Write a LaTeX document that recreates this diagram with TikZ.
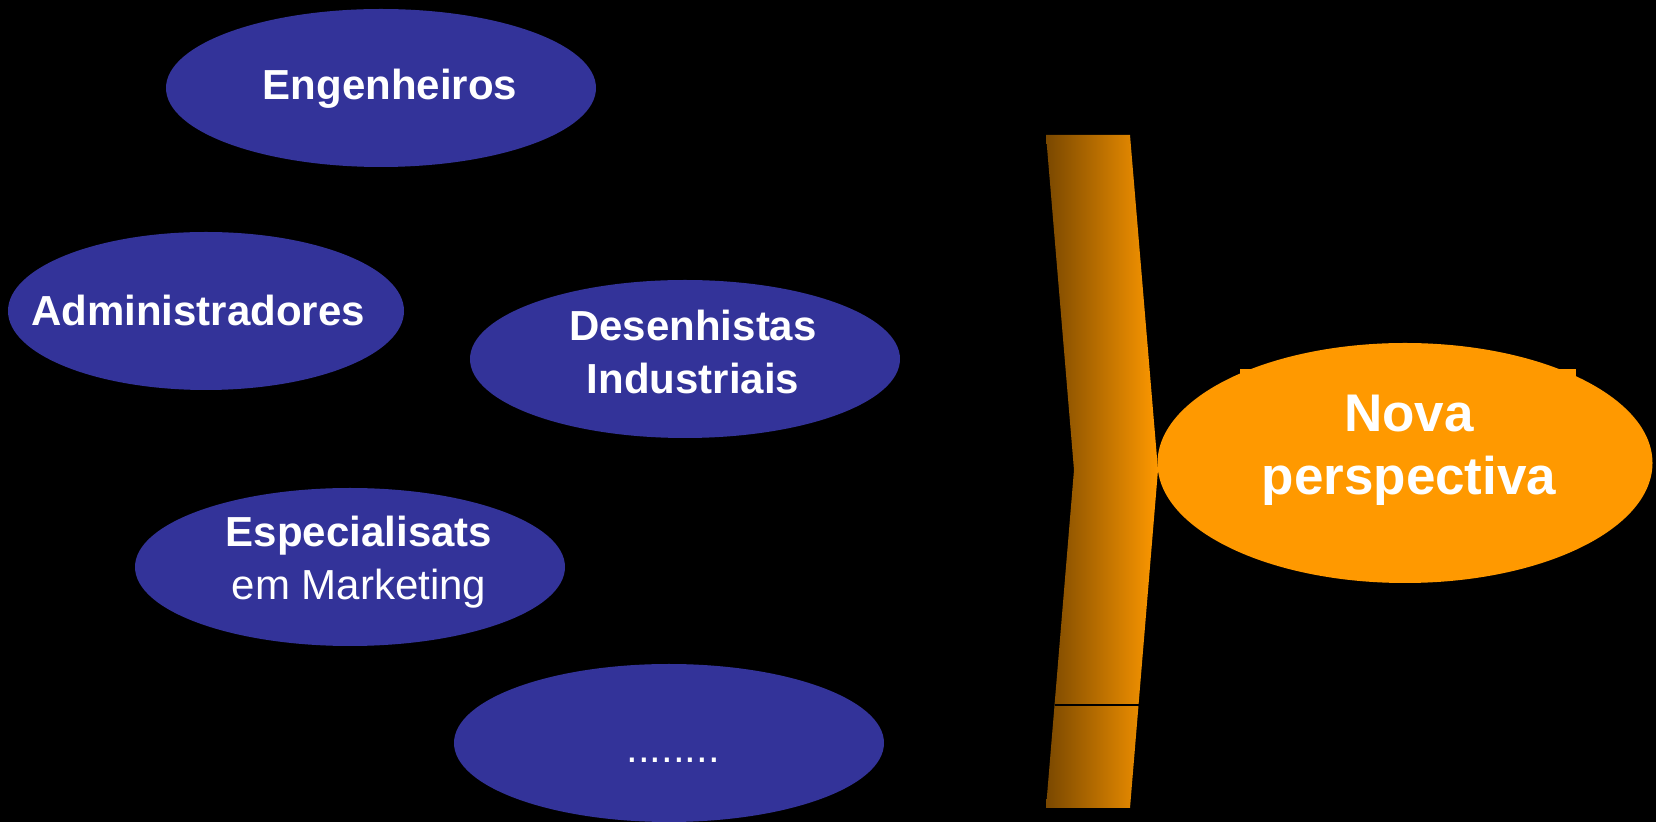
\documentclass[tikz,border=0pt]{standalone}
\usepackage{fontspec}
\setmainfont{Liberation Sans}
\usetikzlibrary{shapes.geometric}

\definecolor{azul}{RGB}{51,51,153}
\definecolor{laranja}{RGB}{255,153,0}
\definecolor{marrom}{RGB}{122,72,0}

\begin{document}
\begin{tikzpicture}[x=0.5pt,y=-0.5pt,
    grupo/.style={ellipse,fill=azul,inner sep=0pt,outer sep=0pt,minimum width=215pt,minimum height=79pt},
    visao/.style={ellipse,fill=laranja,inner sep=0pt,outer sep=0pt,minimum width=247.5pt,minimum height=120pt},
    rotulo/.style={text=white,align=center,font=\fontsize{21}{26.5}\selectfont\bfseries},
    grande/.style={text=white,align=center,font=\fontsize{26.5}{31.5}\selectfont\bfseries}]

    \useasboundingbox (0,0) rectangle (1656,822);
    \fill[black] (0,0) rectangle (1656,822);

    \node[grupo]         (eng) at (381, 88)           {};
    \node[grupo,minimum width=198pt] (adm) at (206, 311) {};
    \node[grupo]         (des) at (685, 359)          {};
    \node[grupo]         (esp) at (350, 567)          {};
    \node[grupo]         (out) at (669, 743)          {};
    \node[visao]         (nova) at (1405, 463)        {};

    \fill[laranja] (1240,369) rectangle (1252,376);
    \fill[laranja] (1559,369) rectangle (1576,376);

    \node[rotulo]        (teng) at (390, 89)          {Engenheiros};
    \node[rotulo]        (tadm) at (198, 310)         {Administradores};
    \node[rotulo]        (tdes) at (693, 352)         {Desenhistas\\Industriais};
    \node[rotulo]        (tesp) at (359, 562)         {Especialisats\\{\mdseries em Marketing}};
    \node[rotulo,anchor=base] (tout) at (673, 763)    {\mdseries ........};
    \node[grande]        (tnova) at (1409, 450)       {Nova\\perspectiva};

    % chave laranja
    \coordinate (c1) at (1046, 135);
    \coordinate (c2) at (1130, 135);
    \coordinate (c3) at (1158, 470);
    \coordinate (c4) at (1130, 808);
    \coordinate (c5) at (1046, 808);
    \coordinate (c6) at (1074, 470);
    \shade[left color=marrom,right color=laranja] (c1) -- (c2) -- (c3) -- (c4) -- (c5) -- (c6) -- cycle;
    \draw[black,line width=0.6pt] (1054.5, 705) -- (1138.5, 705);
  \end{tikzpicture}
\end{document}
